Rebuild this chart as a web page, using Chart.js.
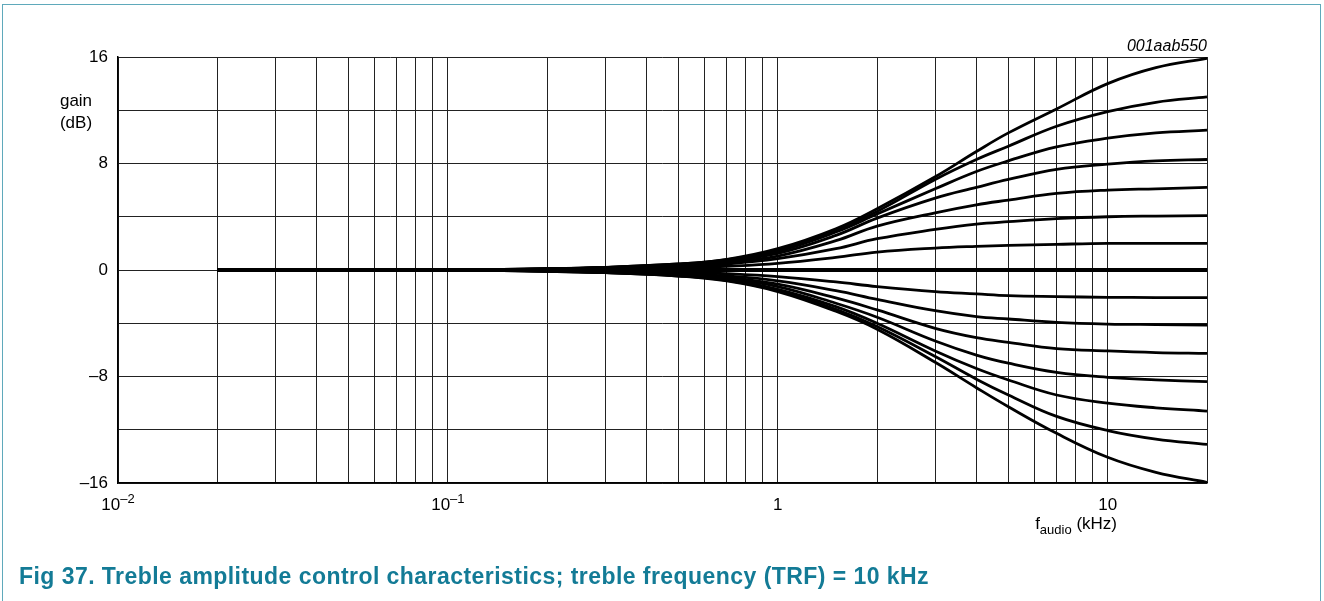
<!DOCTYPE html>
<html>
<head>
<meta charset="utf-8">
<title>Treble amplitude control characteristics</title>
<script src="https://cdn.jsdelivr.net/npm/chart.js@4/dist/chart.umd.min.js"></script>
<style>
  body { margin: 0; background: #fff; }
  #wrap { position: relative; width: 1324px; height: 601px; overflow: hidden; font-family: Arial, "Liberation Sans", sans-serif; }
  #frame { position: absolute; left: 2px; top: 4px; width: 1319px; height: 700px; border: 1.5px solid #5fa9bb; box-sizing: border-box; }
  #chart { position: absolute; left: 0; top: 0; }
  #caption { position: absolute; left: 19px; top: 563px; font-weight: bold; font-size: 23px; color: #137b96; white-space: nowrap; letter-spacing: 0.45px; }
</style>
</head>
<body>
<div id="wrap">
  <div id="frame"></div>
  <canvas id="chart" width="1324" height="601"></canvas>
  <div id="caption">Fig 37. Treble amplitude control characteristics; treble frequency (TRF) = 10 kHz</div>
</div>

<script>
const freqs = [0.02, 0.1, 0.2, 0.3, 0.5, 0.7, 1, 1.5, 2, 3, 4, 5, 7, 10, 14, 20];

// gain (dB) per treble setting, boost curves
const boost16 = [0, 0, 0.1, 0.2, 0.45, 0.8, 1.6, 3.1, 4.6, 7.0, 8.9, 10.3, 12.1, 14.0, 15.2, 15.9];
const boost13 = [0, 0, 0.1, 0.2, 0.45, 0.78, 1.5, 3.0, 4.4, 6.8, 8.3, 9.3, 10.8, 11.9, 12.6, 13.0];
const boost10 = [0, 0, 0.1, 0.2, 0.42, 0.75, 1.4, 2.85, 4.2, 6.1, 7.4, 8.2, 9.25, 9.9, 10.3, 10.5];
const boost8 = [0, 0, 0.08, 0.18, 0.4, 0.68, 1.25, 2.6, 3.9, 5.4, 6.2, 6.8, 7.55, 7.95, 8.2, 8.3];
const boost6 = [0, 0, 0.07, 0.15, 0.33, 0.58, 1.05, 2.2, 3.3, 4.3, 4.9, 5.25, 5.75, 6.0, 6.1, 6.2];
const boost4 = [0, 0, 0.05, 0.1, 0.25, 0.45, 0.85, 1.6, 2.35, 3.05, 3.45, 3.63, 3.86, 4.0, 4.05, 4.08];
const boost2 = [0, 0, 0.03, 0.06, 0.15, 0.28, 0.5, 0.95, 1.35, 1.65, 1.78, 1.85, 1.93, 2.0, 2.0, 2.0];
const flat0 = [0, 0, 0, 0, 0, 0, 0, 0, 0, 0, 0, 0, 0, 0, 0, 0];
// cut curves
const cut2 = [0, 0, -0.03, -0.06, -0.15, -0.28, -0.5, -0.9, -1.25, -1.63, -1.8, -1.93, -2.0, -2.05, -2.07, -2.08];
const cut4 = [0, 0, -0.05, -0.1, -0.25, -0.45, -0.82, -1.55, -2.2, -3.06, -3.5, -3.68, -3.93, -4.06, -4.1, -4.13];
const cut6 = [0, 0, -0.07, -0.15, -0.33, -0.58, -1.07, -2.1, -3.0, -4.38, -5.08, -5.43, -5.9, -6.08, -6.2, -6.26];
const cut8 = [0, 0, -0.08, -0.18, -0.4, -0.68, -1.25, -2.5, -3.55, -5.33, -6.39, -7.0, -7.69, -8.06, -8.25, -8.39];
const cut10 = [0, 0, -0.1, -0.2, -0.42, -0.75, -1.45, -2.75, -4.0, -6.08, -7.4, -8.26, -9.39, -10.0, -10.35, -10.6];
const cut13 = [0, 0, -0.1, -0.2, -0.45, -0.78, -1.55, -2.95, -4.25, -6.5, -8.2, -9.39, -11.0, -12.06, -12.7, -13.1];
const cut16 = [0, 0, -0.1, -0.2, -0.45, -0.82, -1.62, -3.1, -4.45, -6.93, -8.84, -10.27, -12.27, -14.07, -15.2, -15.95];

// axes
const xGrid = [0.01, 0.02, 0.03, 0.04, 0.05, 0.06, 0.07, 0.08, 0.09,
  0.1, 0.2, 0.3, 0.4, 0.5, 0.6, 0.7, 0.8, 0.9,
  1, 2, 3, 4, 5, 6, 7, 8, 9, 10, 20];
const xLabelValues = [0.01, 0.1, 1, 10];
const xLabelBase = ["10", "10", "1", "10"];
const xLabelExp = ["\u20132", "\u20131", "", ""];
const yMin = -16, yMax = 16, yStep = 4;
const yLabelValues = [16, 8, 0, -8, -16];

const allCurves = [boost16, boost13, boost10, boost8, boost6, boost4, boost2, flat0,
  cut2, cut4, cut6, cut8, cut10, cut13, cut16];

const FONT = "Arial, 'Liberation Sans', sans-serif";

// extra texts: x tick labels with exponent, axis titles, figure id
const textPlugin = {
  id: "texts",
  afterDraw(chart) {
    const ctx = chart.ctx;
    const xs = chart.scales.x;
    ctx.save();
    ctx.fillStyle = "#000";
    ctx.textBaseline = "alphabetic";
    ctx.textAlign = "left";

    xLabelValues.forEach((v, i) => {
      ctx.font = "17px " + FONT;
      const wb = ctx.measureText(xLabelBase[i]).width;
      ctx.font = "13px " + FONT;
      const we = xLabelExp[i] ? ctx.measureText(xLabelExp[i]).width : 0;
      const px = xs.getPixelForValue(v);
      const x0 = px - (wb + we) / 2;
      ctx.font = "17px " + FONT;
      ctx.fillText(xLabelBase[i], x0, 510);
      if (we) {
        ctx.font = "13px " + FONT;
        ctx.fillText(xLabelExp[i], x0 + wb, 503);
      }
    });

    // x title: f_audio (kHz)
    ctx.font = "17px " + FONT;
    const wf = ctx.measureText("f").width;
    const wk = ctx.measureText(" (kHz)").width;
    ctx.font = "13px " + FONT;
    const wa = ctx.measureText("audio").width;
    let tx = 1117 - (wf + wa + wk);
    ctx.font = "17px " + FONT;
    ctx.fillText("f", tx, 529);
    ctx.font = "13px " + FONT;
    ctx.fillText("audio", tx + wf, 534);
    ctx.font = "17px " + FONT;
    ctx.fillText(" (kHz)", tx + wf + wa, 529);

    // y title
    ctx.textAlign = "center";
    ctx.fillText("gain", 76, 106);
    ctx.fillText("(dB)", 76, 128);

    // figure id
    ctx.textAlign = "right";
    ctx.font = "italic 16px " + FONT;
    ctx.fillText("001aab550", chart.chartArea.right, 51);
    ctx.restore();
  }
};

const datasets = allCurves.map(curve => ({
  data: freqs.map((f, i) => ({ x: f, y: curve[i] })),
  borderColor: "#000",
  borderWidth: curve === flat0 ? 4 : 2.8,
  pointRadius: 0,
  fill: false,
  tension: 0.4
}));

new Chart(document.getElementById("chart"), {
  type: "line",
  data: { datasets },
  options: {
    responsive: false,
    animation: false,
    layout: { padding: { left: 0, top: 57, right: 117, bottom: 118 } },
    plugins: { legend: { display: false }, tooltip: { enabled: false } },
    scales: {
      x: {
        type: "logarithmic",
        min: 0.01,
        max: 20,
        afterBuildTicks: s => { s.ticks = xGrid.map(v => ({ value: v })); },
        afterFit: s => { s.height = 0; },
        ticks: { display: false },
        grid: { color: "#222", lineWidth: 1, drawTicks: false },
        border: { color: "#000", width: 1.5 }
      },
      y: {
        min: yMin,
        max: yMax,
        afterFit: s => { s.width = 118; },
        ticks: {
          stepSize: yStep,
          padding: 10,
          color: "#000",
          font: { family: FONT, size: 17 },
          callback: v => yLabelValues.includes(v) ? (v < 0 ? "\u2013" + Math.abs(v) : String(v)) : ""
        },
        grid: { color: "#222", lineWidth: 1, drawTicks: false },
        border: { color: "#000", width: 1.5 }
      }
    }
  },
  plugins: [textPlugin]
});
</script>
</body>
</html>
